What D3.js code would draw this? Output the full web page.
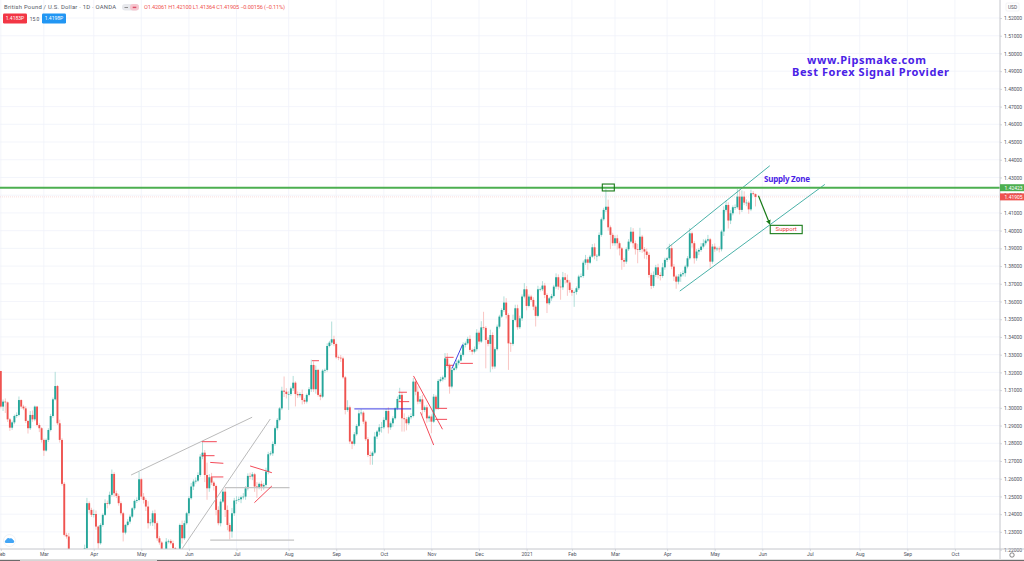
<!DOCTYPE html>
<html>
<head>
<meta charset="utf-8">
<script src="https://cdn.jsdelivr.net/npm/d3@7"></script>
<style>
  html, body { margin: 0; padding: 0; background: #fff; overflow: hidden; }
  svg { display: block; font-family: Roboto, "Open Sans", sans-serif; }
</style>
</head>
<body>
<svg id="chart" width="1024" height="561"></svg>
<script>
// daily closes, one per bar
const closes = [
  1.3007,1.3035,1.3031,1.2935,1.2888,1.2918,1.2954,1.2960,1.3044,1.3007,
  1.2997,1.2926,1.2885,1.2960,1.2935,1.3007,1.2903,1.2885,1.2819,1.2759,
  1.2819,1.2875,1.2954,1.3048,1.3123,1.2913,1.2819,1.2571,1.2283,1.2274,
  1.2050,1.1920,1.1750,1.1580,1.1510,1.1620,1.1850,1.2208,1.2462,1.2424,
  1.2396,1.2401,1.2330,1.2236,1.2339,1.2396,1.2462,1.2458,1.2509,1.2627,
  1.2518,1.2503,1.2462,1.2405,1.2296,1.2339,1.2358,1.2386,1.2433,1.2475,
  1.2480,1.2597,1.2499,1.2480,1.2443,1.2349,1.2353,1.2405,1.2349,1.2264,
  1.2240,1.2189,1.2161,1.2245,1.2249,1.2236,1.2208,1.2180,1.2161,1.2339,
  1.2264,1.2349,1.2405,1.2490,1.2556,1.2584,1.2589,1.2621,1.2725,1.2747,
  1.2621,1.2546,1.2608,1.2578,1.2559,1.2424,1.2349,1.2471,1.2527,1.2424,
  1.2339,1.2302,1.2405,1.2477,1.2480,1.2484,1.2495,1.2499,1.2546,1.2616,
  1.2612,1.2625,1.2556,1.2552,1.2571,1.2556,1.2565,1.2640,1.2738,1.2743,
  1.2796,1.2885,1.2932,1.2997,1.3097,1.3091,1.3078,1.3078,1.3110,1.3142,
  1.3078,1.3071,1.3078,1.3044,1.3035,1.3073,1.3105,1.3242,1.3105,1.3214,
  1.3073,1.3063,1.3210,1.3214,1.3349,1.3368,1.3387,1.3360,1.3285,1.3283,
  1.3279,1.3172,1.2988,1.3003,1.2810,1.2797,1.2851,1.2898,1.2969,1.2973,
  1.2922,1.2823,1.2734,1.2729,1.2747,1.2838,1.2866,1.2890,1.2890,1.2932,
  1.2982,1.2890,1.2913,1.2941,1.2997,1.3050,1.3073,1.2941,1.2936,1.2913,
  1.2947,1.2954,1.3148,1.3091,1.3035,1.3048,1.2988,1.3003,1.2941,1.2951,
  1.2922,1.3063,1.2998,1.3152,1.3161,1.3172,1.3279,1.3238,1.3120,1.3214,
  1.3223,1.3252,1.3267,1.3299,1.3355,1.3364,1.3389,1.3327,1.3317,1.3331,
  1.3424,1.3374,1.3454,1.3451,1.3383,1.3361,1.3411,1.3233,1.3331,1.3458,
  1.3515,1.3552,1.3594,1.3524,1.3364,1.3361,1.3496,1.3562,1.3455,1.3505,
  1.3628,1.3669,1.3575,1.3628,1.3609,1.3571,1.3519,1.3669,1.3669,1.3690,
  1.3637,1.3590,1.3618,1.3631,1.3684,1.3737,1.3684,1.3680,1.3737,1.3722,
  1.3707,1.3665,1.3650,1.3654,1.3675,1.3741,1.3744,1.3819,1.3838,1.3819,
  1.3853,1.3906,1.3858,1.3858,1.3976,1.4064,1.4117,1.4135,1.4019,1.3976,
  1.3929,1.3957,1.3929,1.3900,1.3834,1.3825,1.3895,1.3938,1.3994,1.3929,
  1.3895,1.3891,1.3966,1.3895,1.3882,1.3863,1.3750,1.3688,1.3750,1.3793,
  1.3750,1.3744,1.3793,1.3835,1.3844,1.3901,1.3797,1.3741,1.3712,1.3741,
  1.3754,1.3760,1.3797,1.3844,1.3985,1.3929,1.3844,1.3882,1.3891,1.3910,
  1.3929,1.3944,1.3951,1.3825,1.3910,1.3895,1.3899,1.3895,1.3995,1.4117,
  1.4145,1.4057,1.4098,1.4132,1.4132,1.4192,1.4117,1.4192,1.4158,1.4158,
  1.4120,1.4211,1.42061,1.41905
];
const firstOpen = 1.3208;

// wick lengths in pips above and below each body
const wickUp = [
  0,12,18,5,8,10,8,14,20,4, 10,12,6,22,25,6,4,10,6,8,
  8,10,12,10,80,6,20,10,10,12, 20,10,10,10,10,40,30,20,30,10,
  12,25,20,6,10,8,22,15,18,25, 10,15,12,10,8,6,14,12,6,8,
  15,42,8,20,10,30,20,15,20,10, 12,8,10,20,8,10,15,6,10,8,
  25,15,8,12,20,12,18,15,14,60, 15,70,18,25,10,8,20,15,14,20,
  25,12,30,15,22,15,10,20,12,14, 18,12,8,25,8,18,10,22,14,12,
  14,10,10,8,22,80,20,15,10,38, 8,15,10,25,10,8,12,30,20,25,
  6,10,8,8,15,10,100,20,8,10, 15,10,8,40,10,6,12,10,18,20,
  8,8,12,20,8,25,8,18,30,15, 12,22,10,12,8,14,40,16,28,12,
  10,15,20,8,30,18,25,10,14,8, 12,15,10,10,14,10,30,30,12,15,
  8,20,8,12,15,10,12,20,8,15, 20,12,35,88,10,15,30,15,10,12,
  10,10,35,25,10,8,30,20,20,15, 12,35,18,12,10,15,8,20,10,25,
  15,10,8,12,10,22,16,40,30,24, 30,14,10,8,10,10,14,12,25,12,
  10,18,22,10,14,10,12,100,40,10, 12,16,20,10,8,12,10,14,25,20,
  15,30,50,10,12,18,14,12,20,14, 20,15,25,12,8,25,20,15,10,14,
  12,15,10,12,30,10,12,14,10,20, 22,10,25,8,14,18,10,12,10,20,
  25,15,18,10,16,45,40,35,30,18, 10,20,12,4
];
const wickDown = [
  10,25,60,15,18,12,10,10,8,12, 10,12,30,10,14,10,8,22,15,30,
  6,12,8,10,6,10,15,10,8,12, 20,15,10,20,10,15,10,10,8,20,
  12,15,18,30,8,10,6,25,8,10, 20,12,14,12,50,10,8,12,8,10,
  12,8,14,20,25,30,14,20,35,15, 12,18,10,12,10,8,15,8,10,12,
  30,10,8,14,8,20,12,8,10,15, 40,65,20,14,25,30,12,18,8,40,
  30,45,35,15,20,10,22,12,18,12, 15,20,30,60,12,25,18,10,15,8,
  14,10,12,8,10,30,25,90,10,15, 70,15,12,25,14,10,8,15,15,25,
  10,20,8,14,10,8,14,12,8,14, 20,8,25,10,14,30,10,8,6,12,
  14,10,12,50,50,8,14,20,30,10, 8,35,14,20,8,10,12,75,70,40,
  10,12,8,20,15,12,30,12,25,20, 65,8,12,10,8,12,15,12,40,10,
  8,10,12,6,10,14,8,12,18,10, 12,16,8,10,160,14,160,15,12,8,
  10,8,12,20,150,45,10,8,14,10, 14,10,25,8,12,20,60,8,12,10,
  18,55,10,14,8,12,18,70,14,20, 75,15,18,80,15,10,8,10,12,40,
  8,6,20,30,6,10,8,12,20,80, 15,14,35,40,55,30,12,10,10,25,
  30,75,12,20,40,25,15,18,10,12, 20,25,10,14,12,10,15,25,40,15,
  30,12,20,10,8,25,30,14,20,10, 10,12,8,35,12,15,10,18,12,25,
  10,45,20,12,15,8,25,12,14,20, 25,10,8,54
];

const monthLabels = ["Feb","Mar","Apr","May","Jun","Jul","Aug","Sep","Oct","Nov","Dec","2021","Feb","Mar","Apr","May","Jun","Jul","Aug","Sep","Oct"];
const monthBars = [0,19,41,62,83,104,127,148,169,190,211,232,252,271,294,315,336,357,379,400,421];
const priceTicks = d3.range(31).map((i) => +(1.22 + i * 0.01).toFixed(2));

const supplyLevel = 1.42423;
const lastClose = 1.41905;

// drawn trend lines as [bar, price, bar, price]
const grayLines = [
  [57.5,1.2621,110.9,1.2947],
  [79.9,1.2203,118.9,1.2937]
];
const grayLevels = [
  [98.9,1.2550,127.4,1.2550],
  [92.4,1.2254,129.4,1.2254]
];
const redLines = [
  [88.7,1.2809,95.3,1.2809],
  [88.7,1.2730,94.3,1.2730],
  [92.4,1.2692,98.2,1.2687],
  [92.7,1.2610,98.2,1.2610],
  [110,1.2672,119.6,1.2634],
  [111.9,1.2465,119.6,1.2559],
  [137.3,1.3266,140.4,1.3266],
  [175.5,1.3088,179.2,1.3088],
  [175.5,1.3035,180.2,1.3035],
  [182.1,1.3180,194.9,1.2879],
  [185.2,1.2975,191,1.2790],
  [191.7,1.2997,196.9,1.2997],
  [191.7,1.2935,196.9,1.2935],
  [196.1,1.3285,199.8,1.3285],
  [196.1,1.3240,199.8,1.3240],
  [202.7,1.3251,208.3,1.3251]
];
const blueLines = [
  [156,1.2994,181.1,1.2994],
  [199.1,1.3223,203.8,1.3358]
];
const channelLines = [
  [293.6,1.3896,339.3,1.4366],
  [299.6,1.3659,363.6,1.4261]
];
const arrowLine = [334.3,1.4197,339.3,1.4037];
const peakBox = [265.4,1.4263,270.7,1.4224];
const supportBox = [339.5,1.4030,353.6,1.3983];

const green = "#26a69a", red = "#ef5350";
const width = 1024, height = 561;
const plotRight = 1000, plotBottom = 549;

const x = d3.scaleLinear().domain([0, 333]).range([0.8, 755.5]);
const y = d3.scaleLinear().domain([1.22, 1.52]).range([549.6, 18]);

const bars = closes.map((close, i) => {
  const open = i === 0 ? firstOpen : closes[i - 1];
  return {
    i, open, close,
    high: Math.max(open, close) + wickUp[i] / 10000,
    low: Math.min(open, close) - wickDown[i] / 10000
  };
});

const svg = d3.select("#chart");

svg.append("defs").append("clipPath").attr("id", "plot")
  .append("rect").attr("width", plotRight).attr("height", plotBottom);
svg.select("defs").append("marker")
  .attr("id", "head").attr("viewBox", "0 0 6 6").attr("refX", 5).attr("refY", 3)
  .attr("markerWidth", 4).attr("markerHeight", 4).attr("orient", "auto")
  .append("path").attr("d", "M0,0L6,3L0,6Z").attr("fill", "#177a17");

// grid
const grid = svg.append("g").attr("clip-path", "url(#plot)");
grid.selectAll(".gy").data(priceTicks).enter().append("line")
  .attr("x1", 0).attr("x2", plotRight)
  .attr("y1", (d) => y(d)).attr("y2", (d) => y(d))
  .attr("stroke", "#f0f3fa").attr("stroke-width", 0.8);
grid.selectAll(".gx").data(monthBars).enter().append("line")
  .attr("x1", (d) => x(d)).attr("x2", (d) => x(d))
  .attr("y1", 0).attr("y2", plotBottom)
  .attr("stroke", "#f0f3fa").attr("stroke-width", 0.8);

const plot = svg.append("g").attr("clip-path", "url(#plot)");

// dotted last price line
plot.append("line")
  .attr("x1", 0).attr("x2", plotRight)
  .attr("y1", y(lastClose)).attr("y2", y(lastClose))
  .attr("stroke", "#f9cfcd").attr("stroke-width", 0.7).attr("stroke-dasharray", "1 1");

// candles
plot.selectAll(".wick").data(bars).enter().append("line")
  .attr("x1", (d) => x(d.i)).attr("x2", (d) => x(d.i))
  .attr("y1", (d) => y(d.high)).attr("y2", (d) => y(d.low))
  .attr("stroke", (d) => (d.close >= d.open ? "#a8dad5" : "#f8bfbd"))
  .attr("stroke-width", 0.9);
plot.selectAll(".body").data(bars).enter().append("rect")
  .attr("x", (d) => x(d.i) - 0.95).attr("width", 1.9)
  .attr("y", (d) => y(Math.max(d.open, d.close)))
  .attr("height", (d) => Math.max(0.6, Math.abs(y(d.open) - y(d.close))))
  .attr("fill", (d) => (d.close >= d.open ? green : red));

// drawings
const drawLines = (rows, color, w) => {
  plot.append("g").selectAll("line").data(rows).enter().append("line")
    .attr("x1", (d) => x(d[0])).attr("y1", (d) => y(d[1]))
    .attr("x2", (d) => x(d[2])).attr("y2", (d) => y(d[3]))
    .attr("stroke", color).attr("stroke-width", w);
};
drawLines(grayLines, "#a8a8a8", 0.8);
drawLines(grayLevels, "#c4c4c4", 1.2);
drawLines(redLines, "#f23645", 0.9);
drawLines(blueLines, "#2a2ae0", 0.9);
drawLines(channelLines, "#35a89e", 0.9);

plot.append("line")
  .attr("x1", 0).attr("x2", plotRight)
  .attr("y1", y(supplyLevel)).attr("y2", y(supplyLevel))
  .attr("stroke", "#4caf50").attr("stroke-width", 2);

plot.append("line")
  .attr("x1", x(arrowLine[0])).attr("y1", y(arrowLine[1]))
  .attr("x2", x(arrowLine[2])).attr("y2", y(arrowLine[3]))
  .attr("stroke", "#177a17").attr("stroke-width", 1.2)
  .attr("marker-end", "url(#head)");

const boxAt = (b) => plot.append("rect")
  .attr("x", x(b[0])).attr("y", y(b[1]))
  .attr("width", x(b[2]) - x(b[0])).attr("height", y(b[3]) - y(b[1]))
  .attr("fill", "none").attr("stroke", "#177a17").attr("stroke-width", 1.1);
boxAt(peakBox);
boxAt(supportBox);

plot.append("text")
  .attr("x", (x(supportBox[0]) + x(supportBox[2])) / 2)
  .attr("y", (y(supportBox[1]) + y(supportBox[3])) / 2 + 2)
  .attr("text-anchor", "middle").attr("font-size", 6)
  .attr("fill", "#f0413d").text("Support");

plot.append("text")
  .attr("x", 764).attr("y", 182)
  .attr("font-family", "'Noto Sans'").attr("font-weight", 700).attr("font-size", 8)
  .attr("textLength", 46)
  .attr("fill", "#4a22e6").text("Supply Zone");

// watermark text
svg.append("text")
  .attr("x", 807).attr("y", 63.5)
  .attr("font-family", "'Noto Sans'").attr("font-weight", 700).attr("font-size", 11)
  .attr("textLength", 119)
  .attr("fill", "#4a22e6").text("www.Pipsmake.com");
svg.append("text")
  .attr("x", 792).attr("y", 76)
  .attr("font-family", "'Noto Sans'").attr("font-weight", 700).attr("font-size", 11)
  .attr("textLength", 157)
  .attr("fill", "#4a22e6").text("Best Forex Signal Provider");

// axes
const yAxis = d3.axisRight(y)
  .tickValues(priceTicks)
  .tickFormat(d3.format(".5f"))
  .tickSize(2).tickPadding(2);
const xAxis = d3.axisBottom(x)
  .tickValues(monthBars)
  .tickFormat((d, i) => monthLabels[i])
  .tickSize(2).tickPadding(1.5);

const yG = svg.append("g").attr("transform", `translate(${plotRight},0)`).call(yAxis);
const xG = svg.append("g").attr("transform", `translate(0,${plotBottom})`).call(xAxis);
[yG, xG].forEach((g) => {
  g.select(".domain").remove();
  g.selectAll("line").attr("stroke", "#b8bcc4").attr("stroke-width", 0.6);
  g.selectAll("text").attr("fill", "#50535e").attr("font-size", 5).attr("font-family", "Roboto");
});

svg.append("line").attr("x1", 0).attr("x2", width).attr("y1", plotBottom).attr("y2", plotBottom)
  .attr("stroke", "#c4c6cc").attr("stroke-width", 1);
svg.append("line").attr("x1", plotRight).attr("x2", plotRight).attr("y1", 0).attr("y2", height - 2)
  .attr("stroke", "#c4c6cc").attr("stroke-width", 1);

// price flags on the axis
const flags = [
  { price: supplyLevel, color: "#4caf50" },
  { price: lastClose, color: "#ef5350" }
];
const flag = svg.append("g").selectAll("g").data(flags).enter().append("g")
  .attr("transform", (d) => `translate(${plotRight},${y(d.price)})`);
flag.append("rect").attr("y", -3.5).attr("width", 24).attr("height", 7).attr("fill", (d) => d.color);
flag.append("text").attr("x", 4.5).attr("y", 1.8).attr("font-size", 5).attr("fill", "#fff")
  .text((d) => d.price.toFixed(5));

// USD badge
svg.append("rect").attr("x", 1006).attr("y", 3).attr("width", 13).attr("height", 8)
  .attr("fill", "#fff").attr("stroke", "#e4e6ea").attr("stroke-width", 0.5).attr("rx", 1);
svg.append("text").attr("x", 1012.5).attr("y", 9).attr("text-anchor", "middle")
  .attr("font-size", 4.8).attr("fill", "#50535e").text("USD");

// legend
svg.append("text").attr("x", 4).attr("y", 9.2)
  .attr("font-size", 5.9).attr("fill", "#555a66")
  .attr("textLength", 112).text("British Pound / U.S. Dollar · 1D · OANDA");
svg.append("rect").attr("x", 122).attr("y", 4).attr("width", 17).attr("height", 6.5).attr("rx", 3.2).attr("fill", "#e8e9ed");
svg.append("rect").attr("x", 130).attr("y", 4).attr("width", 9).attr("height", 6.5).attr("rx", 3.2).attr("fill", "#f7c6cf");
svg.append("rect").attr("x", 124.5).attr("y", 7).attr("width", 3.5).attr("height", 0.8).attr("fill", "#777");
svg.append("rect").attr("x", 132.7).attr("y", 6.7).attr("width", 3.6).attr("height", 1.4).attr("fill", "#d9506a");
svg.append("text").attr("x", 144).attr("y", 9.2).attr("font-size", 5.6).attr("fill", "#ef5350")
  .attr("textLength", 141).text("O1.42061 H1.42100 L1.41364 C1.41905 −0.00156 (−0.11%)");

const quotes = [
  { x: 3, label: "1.4183P", color: "#f23645" },
  { x: 42, label: "1.4198P", color: "#2196f3" }
];
const quote = svg.append("g").selectAll("g").data(quotes).enter().append("g")
  .attr("transform", (d) => `translate(${d.x},13.5)`);
quote.append("rect").attr("width", 24).attr("height", 10).attr("rx", 1.2).attr("fill", (d) => d.color);
quote.append("text").attr("x", 12).attr("y", 6.8).attr("text-anchor", "middle")
  .attr("font-size", 5).attr("fill", "#fff").text((d) => d.label);
svg.append("text").attr("x", 34.5).attr("y", 20.5).attr("text-anchor", "middle")
  .attr("font-size", 5).attr("fill", "#50535e").text("15.0");

// logo button, clock, bottom strip
svg.append("circle").attr("cx", 9.5).attr("cy", 540.5).attr("r", 6)
  .attr("fill", "#fff").attr("stroke", "#eceef2").attr("stroke-width", 0.7);
svg.append("path").attr("d", "M5.7,543 a1.6,1.6 0 0 1 .4,-3 a2.2,2.2 0 0 1 3.6,-1.4 a2.2,2.2 0 0 1 3.4,1.5 a1.5,1.5 0 0 1 0,2.9 Z")
  .attr("fill", "#42a5f5");
svg.append("circle").attr("cx", 1012).attr("cy", 555).attr("r", 2.2)
  .attr("fill", "none").attr("stroke", "#555").attr("stroke-width", 0.7);
svg.append("rect").attr("x", 0).attr("y", 559.8).attr("width", width).attr("height", 1.2).attr("fill", "#6b6b6b");
svg.append("rect").attr("x", 20).attr("y", 559.8).attr("width", 137).attr("height", 1.2).attr("fill", "#d6d6d6");
</script>
</body>
</html>
